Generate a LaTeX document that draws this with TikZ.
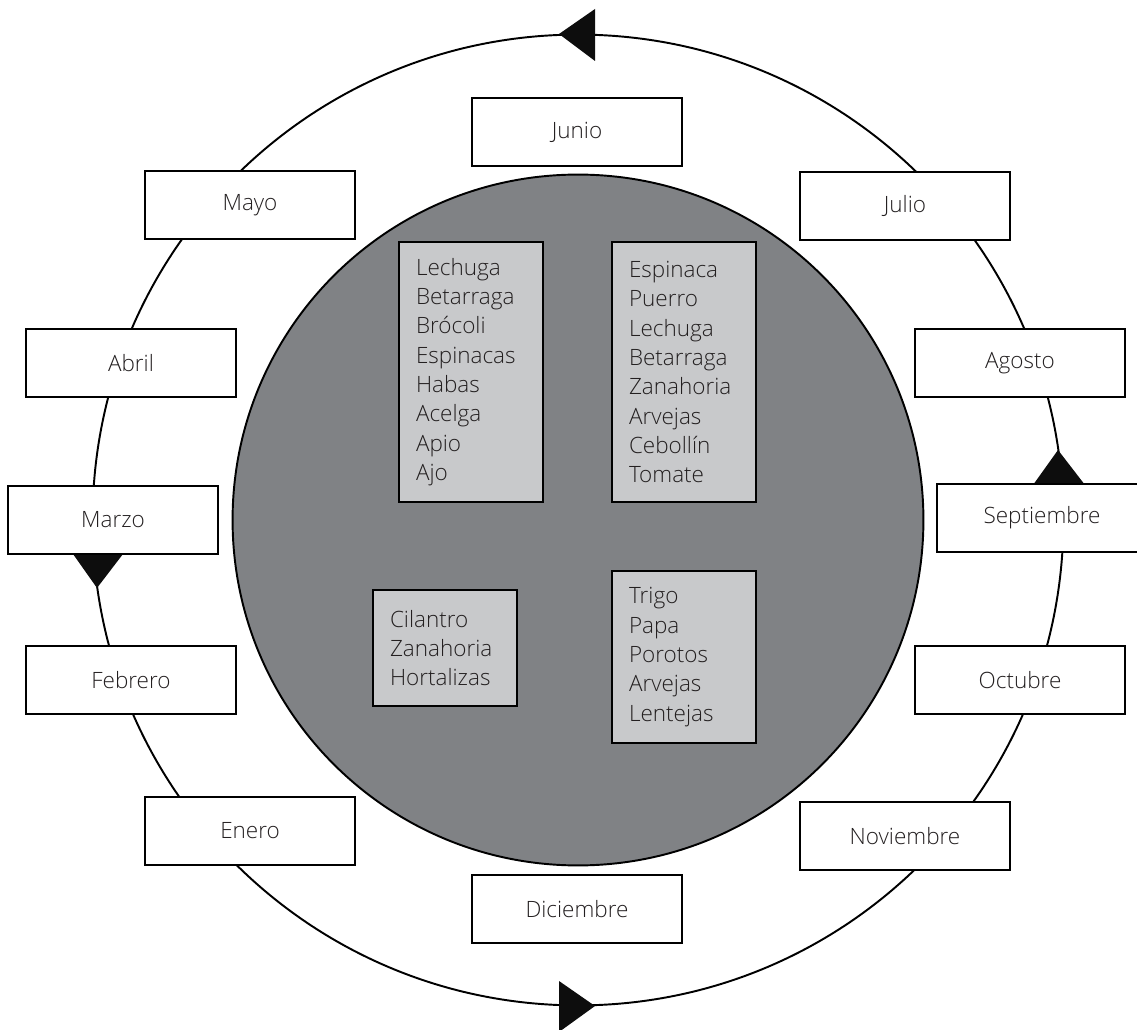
\documentclass[tikz,border=0pt]{standalone}
\usepackage{fontspec}
\setmainfont{Open Sans Light}
\definecolor{tinta}{HTML}{231F20}
\definecolor{disco}{HTML}{808285}
\definecolor{caja}{HTML}{C8C9CB}
\tikzset{%
  mes/.style={draw,line width=1.5pt,fill=white,minimum width=4.2cm,
    minimum height=1.36cm,inner sep=0pt,text=tinta},%
  cultivo/.style={draw,line width=1pt,fill=caja,minimum width=2.88cm,
    text width=2.2cm,inner xsep=0.34cm,inner ysep=0pt,align=left,text=tinta},%
  punta/.style={fill=black!95}%
}

\begin{document}
\begin{tikzpicture}[x=0.02cm,y=-0.02cm,
    every node/.style={font=\fontsize{12.8pt}{16.7pt}\selectfont}]
        \useasboundingbox (0,0) rectangle (1137,1030);
        \draw[line width=1.1pt] (578,520) circle[radius=9.71cm];
        \draw[line width=1.1pt,fill=disco] (578,520) circle[radius=6.91cm];
        \fill[punta] (559,34) -- (595,9) -- (595,61) -- cycle;
        \fill[punta] (595,1006) -- (559,981) -- (559,1032) -- cycle;
        \fill[punta] (97,588) -- (73,554) -- (123,554) -- cycle;
        \fill[punta] (1058,450) -- (1033,485) -- (1085,485) -- cycle;
        \node[mes] (junio) at (577,132) {Junio};
        \node[mes] (mayo) at (250,205) {Mayo};
        \node[mes] (julio) at (905,206) {Julio};
        \node[mes] (abril) at (131,363) {Abril};
        \node[mes] (agosto) at (1020,363) {Agosto};
        \node[mes] (marzo) at (113,520) {Marzo};
        \node[mes] (septiembre) at (1042,518) {Septiembre};
        \node[mes] (febrero) at (131,680) {Febrero};
        \node[mes] (octubre) at (1020,680) {Octubre};
        \node[mes] (enero) at (250,831) {Enero};
        \node[mes] (noviembre) at (905,836) {Noviembre};
        \node[mes] (diciembre) at (577,909) {Diciembre};
        \node[cultivo,minimum height=5.2cm] (otono) at (471,372)
        {Lechuga\\Betarraga\\Brócoli\\Espinacas\\Habas\\Acelga\\Apio\\Ajo};
        \node[cultivo,minimum height=5.2cm] (invierno) at (684,372)
        {Espinaca\\Puerro\\Lechuga\\Betarraga\\Zanahoria\\Arvejas\\Cebollín\\Tomate};
        \node[cultivo,minimum height=2.32cm] (verano) at (445,648)
        {Cilantro\\Zanahoria\\Hortalizas};
        \node[cultivo,minimum height=3.44cm] (primavera) at (684,657)
        {Trigo\\Papa\\Porotos\\Arvejas\\Lentejas};
      \end{tikzpicture}
\end{document}
